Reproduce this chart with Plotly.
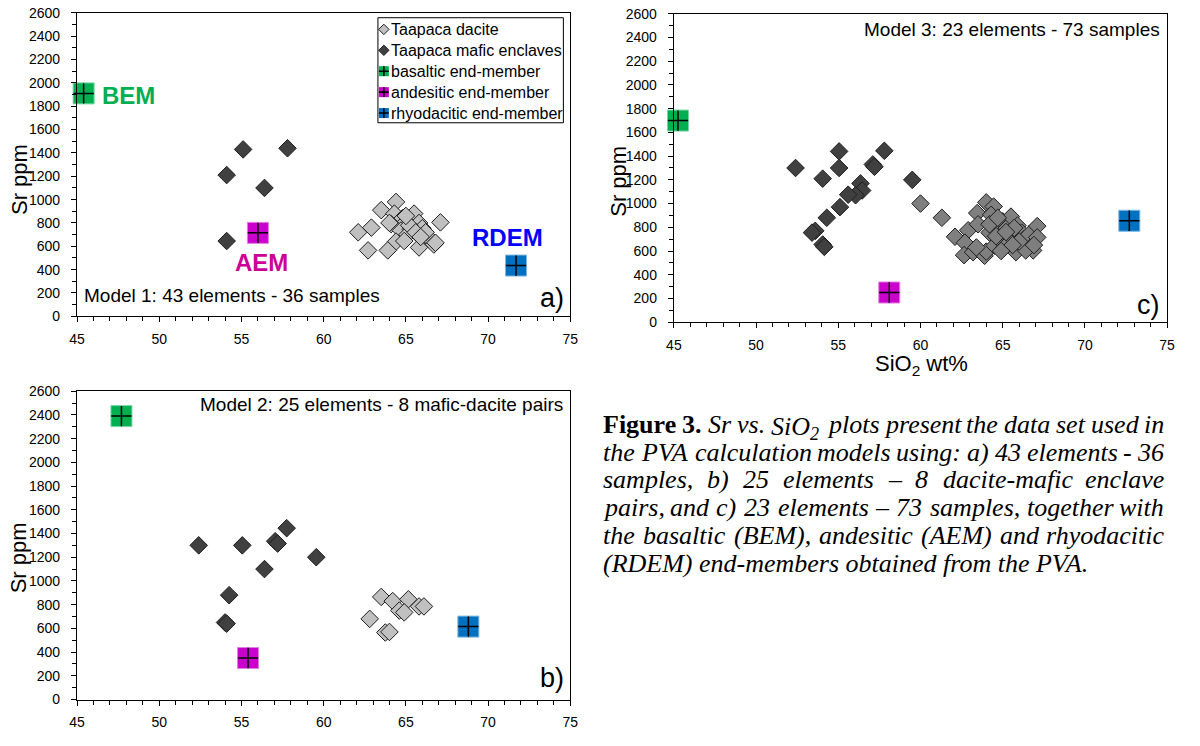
import plotly.graph_objects as go

# The page body keeps an 8 px default margin; the figure fills the rest of the page.
PAGE_W, PAGE_H = 1200, 746
BODY = 8
FIG_W, FIG_H = PAGE_W - 2 * BODY, PAGE_H - 2 * BODY

# ---------------- Model 1 (panel a): 43 elements - 36 samples ----------------
m1_dacite_sio2 = [64.4, 63.5, 65.5, 64.3, 64.8, 65.0, 65.8, 67.1, 62.9, 64.1, 62.1,
                  64.7, 65.3, 66.0, 65.1, 66.2, 66.4, 66.6, 66.7, 64.4, 64.9, 65.8,
                  62.7, 63.9, 65.2, 65.6, 66.2, 64.0, 65.0, 66.8, 65.9]
m1_dacite_sr = [980, 910, 880, 880, 840, 810, 800, 805, 760, 790, 720,
                735, 745, 755, 700, 695, 665, 645, 615, 640, 645, 590,
                565, 565, 780, 720, 720, 800, 860, 630, 680]
m1_mafic_sio2 = [55.1, 57.8, 54.1, 56.4, 54.1]
m1_mafic_sr = [1430, 1440, 1210, 1100, 645]
m1_em_sio2 = [45.4, 56.0, 71.7]
m1_em_sr = [1910, 715, 435]

# ---------------- Model 2 (panel b): 25 elements - 8 mafic-dacite pairs ----------------
m2_dacite_sio2 = [63.5, 64.2, 65.15, 64.6, 64.9, 65.8, 66.1, 62.8, 63.75, 64.0]
m2_dacite_sr = [865, 830, 845, 750, 735, 785, 785, 680, 565, 570]
m2_mafic_sio2 = [52.4, 55.05, 57.75, 57.05, 57.2, 59.55, 56.4, 54.25, 54.0, 54.1]
m2_mafic_sr = [1300, 1300, 1445, 1335, 1315, 1200, 1100, 880, 650, 640]
m2_em_sio2 = [47.7, 55.4, 68.8]
m2_em_sr = [2390, 350, 615]

# ---------------- Model 3 (panel c): 23 elements - 73 samples ----------------
m3_dacite_sio2 = [60.0, 61.3, 62.1, 62.9, 62.7, 62.65, 63.2, 63.45, 63.5, 64.0,
                  64.45, 63.9, 64.0, 64.3, 64.5, 64.8, 64.5, 64.9, 65.0, 65.25,
                  65.5, 65.3, 65.5, 65.8, 65.8, 65.9, 66.15, 66.3, 66.6, 66.7,
                  66.85, 67.1, 67.1, 63.4, 64.2, 64.6, 65.1, 66.4, 65.7,
                  64.2, 64.7, 65.2, 66.0, 65.6, 66.9, 64.9]
m3_dacite_sr = [1000, 880, 720, 775, 670, 565, 590, 920, 825, 1010,
                975, 560, 595, 905, 825, 770, 645, 685, 850, 795,
                890, 720, 670, 635, 590, 815, 755, 700, 740, 630,
                605, 810, 715, 630, 755, 725, 630, 605, 795,
                825, 880, 760, 680, 650, 650, 600]
m3_mafic_sio2 = [52.4, 55.05, 55.05, 57.8, 54.05, 57.1, 57.2, 56.35, 56.45, 56.05,
                 55.6, 55.1, 54.3, 53.6, 53.4, 54.05, 54.15, 59.5]
m3_mafic_sr = [1300, 1440, 1300, 1445, 1210, 1330, 1310, 1170, 1110, 1070,
               1075, 970, 880, 770, 755, 655, 635, 1200]
m3_em_sio2 = [45.25, 58.1, 72.7]
m3_em_sr = [1700, 250, 855]

# ---------------- labels ----------------
sample_names = ["Taapaca dacite", "Taapaca mafic enclaves"]
em_names = ["basaltic end-member", "andesitic end-member", "rhyodacitic end-member"]
em_codes = ["BEM", "AEM", "RDEM"]
em_code_sio2 = [48.1, 56.2, 71.2]
em_code_sr = [1890, 458, 675]
x_tick_vals = [45, 50, 55, 60, 65, 70, 75]
y_tick_vals = [0, 200, 400, 600, 800, 1000, 1200, 1400, 1600, 1800, 2000, 2200, 2400, 2600]
model_texts = ["Model 1: 43 elements - 36 samples",
               "Model 2: 25 elements - 8 mafic-dacite pairs",
               "Model 3: 23 elements - 73 samples"]
caption_lines = [
    "Figure 3. Sr vs. SiO2 plots present the data set used in",
    "the PVA calculation models using: a) 43 elements - 36",
    "samples, b) 25 elements \u2013 8 dacite-mafic enclave",
    "pairs, and c) 23 elements \u2013 73 samples, together with",
    "the basaltic (BEM), andesitic (AEM) and rhyodacitic",
    "(RDEM) end-members obtained from the PVA.",
]

# ---------------- styles ----------------
SANS = "Liberation Sans, Arial, sans-serif"
SERIF = "Liberation Serif, Times New Roman, serif"
LIGHT_GREY = "#C0C0C0"
MID_GREY = "#7F7F7F"
DARK_GREY = "#404040"
EDGE = "#1E1E1E"
EM_FILL = ["#00B050", "#CC00CC", "#0070C0"]
EM_EDGE = ["#7AD6A4", "#E07FE0", "#7FB7E0"]
EM_TEXT = ["#00B050", "#CC0099", "#0000FF"]

fig = go.Figure()

# panel frames in page pixels: (axis suffix, x-range px, y-range px, data, dacite fill)
panels = [
    ("", (78, 578), (13, 325), (m1_dacite_sio2, m1_dacite_sr, m1_mafic_sio2, m1_mafic_sr,
                                m1_em_sio2, m1_em_sr), LIGHT_GREY),
    ("2", (683, 1183), (14, 331), (m3_dacite_sio2, m3_dacite_sr, m3_mafic_sio2, m3_mafic_sr,
                                   m3_em_sio2, m3_em_sr), MID_GREY),
    ("3", (78, 578), (402, 719), (m2_dacite_sio2, m2_dacite_sr, m2_mafic_sio2, m2_mafic_sr,
                                  m2_em_sio2, m2_em_sr), LIGHT_GREY),
]


def xdom(px0, px1):
    return [(px0 - BODY) / FIG_W, (px1 - BODY) / FIG_W]


def ydom(py0, py1):
    return [1 - (py1 - BODY) / FIG_H, 1 - (py0 - BODY) / FIG_H]


for suffix, _, _, data, dac_fill in panels:
    dsx, dsy, msx, msy, esx, esy = data
    xa, ya = "x" + suffix, "y" + suffix
    fig.add_trace(go.Scatter(
        x=dsx, y=dsy, mode="markers", xaxis=xa, yaxis=ya, showlegend=False,
        name=sample_names[0], cliponaxis=False,
        marker=dict(symbol="diamond", size=13.5, color=dac_fill,
                    line=dict(color=EDGE, width=1))))
    fig.add_trace(go.Scatter(
        x=msx, y=msy, mode="markers", xaxis=xa, yaxis=ya, showlegend=False,
        name=sample_names[1], cliponaxis=False,
        marker=dict(symbol="diamond", size=13.5, color=DARK_GREY,
                    line=dict(color=EDGE, width=1))))
    fig.add_trace(go.Scatter(
        x=esx, y=esy, mode="markers", xaxis=xa, yaxis=ya, showlegend=False,
        cliponaxis=False,
        marker=dict(symbol="square", size=21, color=EM_FILL,
                    line=dict(color=EM_EDGE, width=1))))
    fig.add_trace(go.Scatter(
        x=esx, y=esy, mode="markers", xaxis=xa, yaxis=ya, showlegend=False,
        cliponaxis=False,
        marker=dict(symbol="cross-thin", size=14.5, color="black",
                    line=dict(color="black", width=1.5))))

# end-member codes next to the model 1 markers
for code, cx, cy, col in zip(em_codes, em_code_sio2, em_code_sr, EM_TEXT):
    fig.add_annotation(x=cx, y=cy, xref="x", yref="y", text="<b>%s</b>" % code,
                       showarrow=False, font=dict(family=SANS, size=24, color=col),
                       xanchor="center", yanchor="middle")

# ---------------- axes ----------------
tick_font = dict(family=SANS, size=14, color="black")
layout_axes = {}
for suffix, (x0, x1), (y0, y1), _, _ in panels:
    xkey, ykey = "xaxis" + suffix, "yaxis" + suffix
    layout_axes[xkey] = dict(
        domain=xdom(x0, x1), range=[45, 75], anchor="y" + suffix,
        tickvals=x_tick_vals, ticks="outside", ticklen=5, tickwidth=1, tickcolor="black",
        minor=dict(ticks="outside", dtick=1, ticklen=4, tickwidth=1, tickcolor="black"),
        showline=True, linecolor="black", linewidth=1.3, mirror=True, ticklabelstandoff=5,
        showgrid=False, zeroline=False, tickfont=tick_font, fixedrange=True)
    layout_axes[ykey] = dict(
        domain=ydom(y0, y1), range=[0, 2600], anchor="x" + suffix,
        tickvals=y_tick_vals, ticks="outside", ticklen=5, tickwidth=1, tickcolor="black",
        minor=dict(ticks="outside", dtick=100, ticklen=4, tickwidth=1, tickcolor="black"),
        showline=True, linecolor="black", linewidth=1.3, mirror=True, ticklabelstandoff=8,
        showgrid=False, zeroline=False, tickfont=tick_font, fixedrange=True)

# a page-sized overlay axis pair (page pixel units) for legend, titles and caption
layout_axes["xaxis4"] = dict(domain=[0, 1], range=[BODY, BODY + FIG_W], visible=False,
                             anchor="y4", fixedrange=True)
layout_axes["yaxis4"] = dict(domain=[0, 1], range=[BODY + FIG_H, BODY], visible=False,
                             anchor="x4", fixedrange=True)

fig.update_layout(**layout_axes)


def page_text(x, y, text, size, xanchor="center", yanchor="middle", family=SANS,
              color="black", angle=0, yshift=0, style="normal"):
    fig.add_annotation(x=x, y=y, xref="x4", yref="y4", text=text, showarrow=False,
                       xanchor=xanchor, yanchor=yanchor, textangle=angle,
                       borderpad=0, borderwidth=0, yshift=yshift,
                       font=dict(family=family, size=size, color=color, style=style))


# axis titles
page_text(19, 184, "Sr ppm", 22, angle=-90)
page_text(19, 573, "Sr ppm", 22, angle=-90)
page_text(626, 186, "Sr ppm", 22, angle=-90)
page_text(934, 375, "SiO<sub>2</sub> wt%", 22)

# model descriptions and panel letters
page_text(85, 304, model_texts[0], 19, xanchor="left")
page_text(571, 416, model_texts[1], 19, xanchor="right")
page_text(1176, 30, model_texts[2], 19, xanchor="right")
page_text(572, 306, "a)", 27, xanchor="right")
page_text(572, 697, "b)", 27, xanchor="right")
page_text(1176, 313, "c)", 27, xanchor="right")

# ---------------- legend (inside model 1 panel) ----------------
fig.add_shape(type="rect", xref="x4", yref="y4", x0=383, x1=571, y0=18, y1=126,
              line=dict(color="black", width=1), fillcolor="white", layer="below")
legend_rows = [30, 51.5, 73, 94.5, 116]
legend_labels = sample_names + em_names
sym_x = 389
fig.add_trace(go.Scatter(
    x=[sym_x], y=[legend_rows[0]], xaxis="x4", yaxis="y4", mode="markers",
    showlegend=False, hoverinfo="skip",
    marker=dict(symbol="diamond", size=8, color=LIGHT_GREY, line=dict(color=EDGE, width=1))))
fig.add_trace(go.Scatter(
    x=[sym_x], y=[legend_rows[1]], xaxis="x4", yaxis="y4", mode="markers",
    showlegend=False, hoverinfo="skip",
    marker=dict(symbol="diamond", size=8, color=DARK_GREY, line=dict(color=EDGE, width=1))))
fig.add_trace(go.Scatter(
    x=[sym_x] * 3, y=legend_rows[2:], xaxis="x4", yaxis="y4", mode="markers",
    showlegend=False, hoverinfo="skip",
    marker=dict(symbol="square", size=10, color=EM_FILL, line=dict(width=0))))
fig.add_trace(go.Scatter(
    x=[sym_x] * 3, y=legend_rows[2:], xaxis="x4", yaxis="y4", mode="markers",
    showlegend=False, hoverinfo="skip",
    marker=dict(symbol="cross-thin", size=7, line=dict(color="black", width=1.6))))
for row_y, label in zip(legend_rows, legend_labels):
    page_text(396, row_y, label, 16, xanchor="left")

# ---------------- caption (justified) ----------------
ITALIC_W = {' ': 250, '(': 333, ')': 333, ',': 250, '-': 333, '.': 250, ':': 333,
            '\u2013': 500, 'A': 611, 'B': 611, 'C': 667, 'D': 722, 'E': 611, 'F': 611,
            'M': 833, 'O': 722, 'P': 611, 'R': 611, 'S': 500, 'V': 611,
            'a': 500, 'b': 500, 'c': 444, 'd': 500, 'e': 444, 'f': 278, 'g': 500,
            'h': 500, 'i': 278, 'l': 278, 'm': 722, 'n': 500, 'o': 500, 'p': 500,
            'r': 389, 's': 389, 't': 278, 'u': 500, 'v': 444, 'w': 667, 'y': 444}
BOLD_W = {'F': 611, 'i': 278, 'g': 500, 'u': 556, 'r': 444, 'e': 444, '3': 500, '.': 250}
CAP_SIZE = 26
CAP_X0, CAP_X1 = 611, 1180
cap_rows = [436, 464.6, 493.2, 521.8, 550.4, 579]


def word_markup(word, bold):
    """Return (markup, width in px, vertical shift, font style) for one caption word."""
    if bold:
        w = sum(BOLD_W.get(c, 500) for c in word) / 1000 * CAP_SIZE
        return "<b>%s</b>" % word, w, 0, "normal"
    if word == "SiO2":
        w = (ITALIC_W['S'] + ITALIC_W['i'] + ITALIC_W['O'] + 350) / 1000 * CAP_SIZE + 2
        return "SiO<sub>2</sub>", w, -4, "italic"
    w = sum(ITALIC_W.get(c, 500) for c in word) / 1000 * CAP_SIZE
    return word, w, 0, "italic"


for li, (line, row_y) in enumerate(zip(caption_lines, cap_rows)):
    words = line.split(" ")
    if li == len(caption_lines) - 1:
        page_text(CAP_X0, row_y, line, CAP_SIZE, xanchor="left", family=SERIF,
                  style="italic")
        continue
    items = [word_markup(w, li == 0 and wi < 2) for wi, w in enumerate(words)]
    total = sum(it[1] for it in items)
    gap = (CAP_X1 - CAP_X0 - total) / (len(items) - 1)
    xpos = CAP_X0
    for wi, (markup, w, dy, style) in enumerate(items):
        if wi == len(items) - 1:
            page_text(CAP_X1, row_y, markup, CAP_SIZE, xanchor="right", family=SERIF,
                      yshift=dy, style=style)
        else:
            page_text(xpos, row_y, markup, CAP_SIZE, xanchor="left", family=SERIF,
                      yshift=dy, style=style)
        xpos += w + gap

fig.update_layout(
    width=FIG_W, height=FIG_H, margin=dict(l=0, r=0, t=0, b=0),
    paper_bgcolor="white", plot_bgcolor="rgba(0,0,0,0)", showlegend=False,
    hovermode=False, font=dict(family=SANS, color="black"),
)

fig.write_html("out.html")
